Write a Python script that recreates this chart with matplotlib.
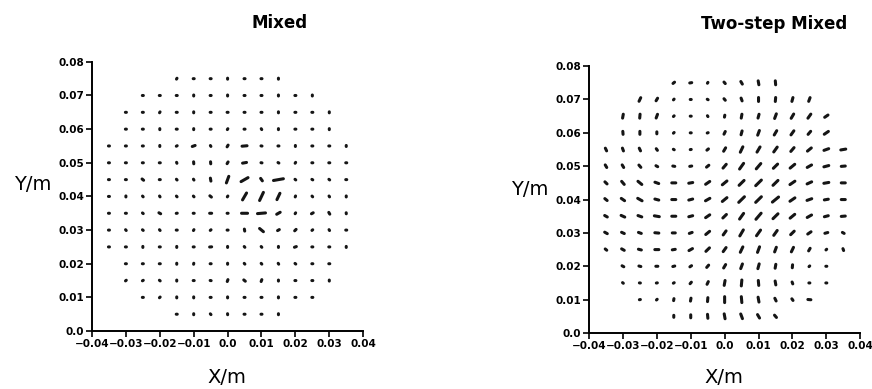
import numpy as np
import matplotlib
matplotlib.use('Agg')
import matplotlib.pyplot as plt
from matplotlib.collections import LineCollection

# строки сетки (сверху вниз) и число точек по обе стороны от x = 0
row_y = [0.075, 0.070, 0.065, 0.060, 0.055, 0.050, 0.045, 0.040,
         0.035, 0.030, 0.025, 0.020, 0.015, 0.010, 0.005]
row_half = [3, 5, 6, 6, 7, 7, 7, 7, 7, 7, 7, 6, 6, 5, 3]
step = 0.005

# "Mixed": угол отрезка (градусы) и длина (условные единицы)
ang_mix = [
    [60, 0, 0, 90, 0, 0, 90],
    [0, 0, 0, 90, 0, 90, 0, 0, 90, 0, 90],
    [0, 0, 60, 0, 90, 0, 0, 0, 0, 90, 0, 0, 90],
    [0, 0, 90, 0, 90, 0, 60, 0, 120, 90, 0, 0, 90],
    [0, 0, 0, 90, 30, 20, 120, 60, 5, 170, 0, 90, 0, 0, 90],
    [0, 0, 0, 0, 110, 95, 95, 60, 10, 170, 150, 60, 0, 0, 0],
    [0, 0, 140, 0, 130, 120, 100, 70, 30, 125, 10, 140, 150, 140, 0],
    [0, 90, 130, 120, 130, 130, 140, 60, 60, 65, 65, 70, 130, 120, 90],
    [0, 0, 140, 150, 10, 0, 0, 0, 0, 5, 30, 60, 30, 120, 95],
    [0, 130, 140, 130, 0, 60, 40, 0, 100, 140, 30, 45, 40, 120, 0],
    [0, 0, 90, 0, 90, 0, 5, 90, 130, 130, 90, 20, 0, 0, 90],
    [0, 0, 0, 90, 80, 0, 90, 130, 130, 120, 140, 0, 0],
    [40, 30, 140, 90, 0, 170, 70, 140, 70, 90, 0, 0, 90],
    [0, 45, 90, 90, 0, 90, 0, 0, 90, 0, 0],
    [0, 90, 130, 95, 0, 0, 90],
]
len_mix = [
    [3, 2, 2, 3, 3, 2, 3],
    [3, 3, 2, 3, 3, 3, 3, 3, 3, 3, 3],
    [2, 2, 3, 2, 3, 2, 2, 2, 2, 3, 2, 2, 3],
    [2, 2, 3, 3, 2, 2, 3, 3, 3, 3, 2, 2, 3],
    [2, 2, 2, 3, 3, 5, 3, 4, 7, 3, 3, 2, 2, 2, 2],
    [2, 2, 2, 2, 3, 4, 4, 4, 6, 3, 3, 2, 2, 2, 2],
    [2, 2, 4, 2, 3, 3, 5, 9, 10, 5, 12, 3, 3, 3, 2],
    [2, 2, 3, 3, 3, 3, 4, 3, 10, 11, 9, 3, 3, 3, 2],
    [2, 2, 3, 4, 3, 2, 4, 3, 8, 10, 6, 3, 4, 4, 3],
    [2, 2, 2, 2, 1, 2, 3, 2, 4, 7, 4, 4, 3, 3, 2],
    [3, 3, 2, 3, 2, 3, 4, 2, 3, 3, 2, 4, 3, 2, 2],
    [2, 2, 2, 2, 2, 2, 3, 3, 3, 3, 3, 2, 2],
    [3, 3, 3, 2, 2, 2, 4, 4, 4, 2, 3, 3, 2],
    [3, 3, 2, 2, 2, 3, 3, 2, 2, 2, 3],
    [2, 3, 2, 3, 2, 2, 2],
]

# "Two-step Mixed"
ang_two = [
    [40, 10, 60, 130, 120, 100, 95],
    [65, 60, 50, 0, 150, 130, 110, 90, 85, 75, 70],
    [80, 85, 70, 45, 0, 120, 80, 80, 75, 70, 60, 55, 35],
    [95, 90, 90, 45, 0, 20, 65, 75, 70, 60, 55, 50, 35],
    [115, 110, 115, 125, 150, 10, 40, 60, 65, 60, 55, 50, 40, 20, 10],
    [120, 120, 130, 150, 170, 10, 40, 50, 55, 50, 45, 40, 30, 15, 5],
    [135, 130, 140, 160, 0, 10, 35, 40, 45, 45, 45, 35, 25, 10, 0],
    [140, 145, 150, 165, 0, 15, 30, 40, 45, 45, 40, 35, 20, 10, 0],
    [150, 155, 160, 170, 0, 15, 35, 45, 55, 50, 45, 40, 30, 15, 5],
    [150, 155, 160, 175, 0, 20, 40, 55, 60, 55, 55, 45, 35, 15, 150],
    [140, 150, 165, 0, 10, 30, 45, 55, 65, 70, 70, 65, 60, 45, 110],
    [150, 165, 0, 15, 35, 50, 60, 70, 75, 80, 85, 45, 0],
    [140, 175, 10, 30, 50, 65, 80, 85, 95, 100, 110, 0, 0],
    [10, 45, 80, 80, 85, 90, 95, 100, 115, 125, 175],
    [90, 90, 95, 100, 110, 120, 130],
]
len_two = [
    [4, 4, 3, 4, 5, 6, 6],
    [6, 5, 3, 3, 3, 4, 5, 6, 6, 6, 6],
    [6, 6, 6, 2, 1, 2, 4, 6, 6, 7, 7, 7, 6],
    [5, 5, 4, 2, 1, 2, 5, 6, 7, 7, 7, 6, 7],
    [5, 5, 5, 4, 3, 3, 4, 6, 8, 8, 8, 7, 7, 7, 7],
    [5, 5, 5, 4, 4, 4, 5, 7, 9, 9, 8, 8, 7, 7, 6],
    [5, 6, 7, 6, 6, 6, 7, 8, 9, 10, 9, 8, 7, 7, 6],
    [5, 6, 7, 6, 6, 6, 7, 8, 10, 10, 10, 8, 7, 6, 6],
    [5, 6, 6, 7, 6, 6, 7, 7, 9, 10, 9, 8, 7, 6, 6],
    [5, 5, 5, 6, 5, 5, 7, 7, 9, 9, 8, 7, 6, 5, 4],
    [4, 5, 5, 6, 5, 6, 7, 7, 8, 8, 7, 7, 5, 2, 4],
    [4, 4, 4, 4, 4, 5, 6, 7, 7, 6, 5, 2, 2],
    [3, 3, 3, 3, 4, 5, 7, 8, 7, 6, 4, 3, 3],
    [3, 3, 4, 5, 6, 8, 8, 7, 5, 4, 5],
    [4, 5, 6, 7, 7, 6, 5],
]

x_ticks = [-0.04, -0.03, -0.02, -0.01, 0.0, 0.01, 0.02, 0.03, 0.04]
x_labels = ['\u22120.04', '\u22120.03', '\u22120.02', '\u22120.01', '0.0',
            '0.01', '0.02', '0.03', '0.04']
y_ticks = [0.0, 0.01, 0.02, 0.03, 0.04, 0.05, 0.06, 0.07, 0.08]
y_labels = ['0.0', '0.01', '0.02', '0.03', '0.04', '0.05', '0.06', '0.07', '0.08']

unit = 0.08 / 270  # одна условная единица длины в метрах


def segments(angles, lengths):
    segs = []
    for y, h, ar, lr in zip(row_y, row_half, angles, lengths):
        xs = step * np.arange(-h, h + 1)
        for x, a, l in zip(xs, ar, lr):
            half = 0.5 * max(l - 2.0, 1.0) * unit
            dx = half * np.cos(np.radians(a))
            dy = half * np.sin(np.radians(a))
            segs.append([(x - dx, y - dy), (x + dx, y + dy)])
    return segs


fig = plt.figure(figsize=(8.72, 3.89), dpi=100)
ax1 = fig.add_axes([0.1055, 0.149, 0.311, 0.692])
ax2 = fig.add_axes([0.6755, 0.144, 0.311, 0.686])

for ax, ang, ln in [(ax1, ang_mix, len_mix), (ax2, ang_two, len_two)]:
    lc = LineCollection(segments(ang, ln), colors='#151515', linewidths=2.2,
                        capstyle='round')
    lc.set_snap(False)
    ax.add_collection(lc)
    ax.set_xlim(-0.04, 0.04)
    ax.set_ylim(0, 0.08)
    ax.set_xticks(x_ticks, x_labels)
    ax.set_yticks(y_ticks, y_labels)
    ax.spines['top'].set_visible(False)
    ax.spines['right'].set_visible(False)
    ax.spines['left'].set_linewidth(1.4)
    ax.spines['bottom'].set_linewidth(1.4)
    ax.tick_params(direction='out', length=4, width=1.2, labelsize=7.5, pad=1.5)
    for t in ax.get_xticklabels() + ax.get_yticklabels():
        t.set_fontweight('bold')

fig.text(0.321, 0.94, 'Mixed', fontsize=12, fontweight='bold', ha='center', va='center')
fig.text(0.888, 0.938, 'Two-step Mixed', fontsize=12, fontweight='bold', ha='center', va='center')
fig.text(0.037, 0.525, 'Y/m', fontsize=14, ha='center', va='center')
fig.text(0.607, 0.512, 'Y/m', fontsize=14, ha='center', va='center')
fig.text(0.26, 0.03, 'X/m', fontsize=14, ha='center', va='center')
fig.text(0.83, 0.03, 'X/m', fontsize=14, ha='center', va='center')

plt.savefig('out.png', dpi=100)
